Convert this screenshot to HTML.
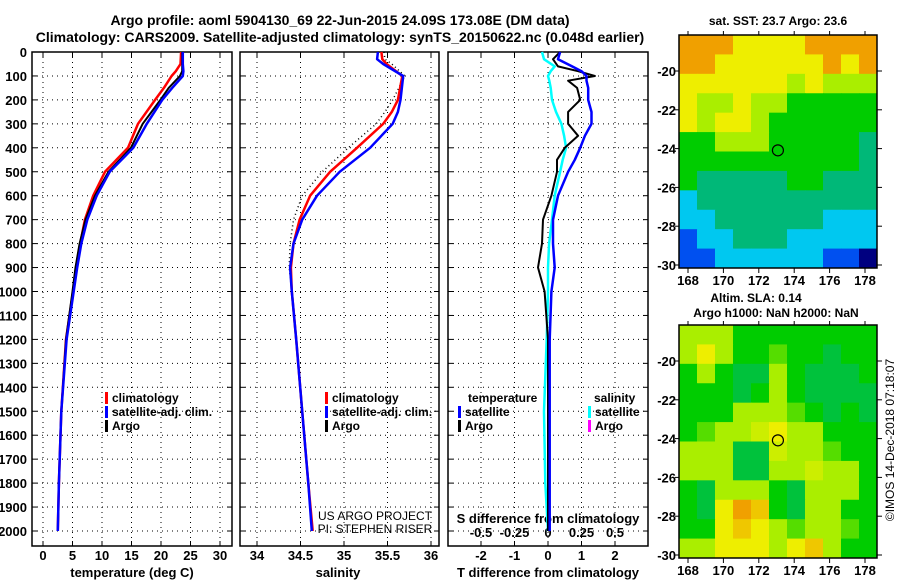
<!DOCTYPE html>
<html><head><meta charset="utf-8"><style>
html,body{margin:0;padding:0;background:#fff;}
svg{display:block;font-family:"Liberation Sans",sans-serif;font-weight:bold;}
</style></head><body>
<svg id="c" width="900" height="580" viewBox="0 0 900 580" xmlns="http://www.w3.org/2000/svg">
<text x="340" y="25" font-size="14" text-anchor="middle">Argo profile: aoml 5904130_69 22-Jun-2015 24.09S 173.08E (DM data)</text>
<text x="340" y="42" font-size="14" text-anchor="middle">Climatology: CARS2009. Satellite-adjusted climatology: synTS_20150622.nc (0.048d earlier)</text>
<text x="778" y="25" font-size="12" text-anchor="middle">sat. SST: 23.7 Argo: 23.6</text>
<text x="756" y="302" font-size="12" text-anchor="middle">Altim. SLA: 0.14</text>
<text x="776" y="317" font-size="12" text-anchor="middle">Argo h1000: NaN h2000: NaN</text>
<text x="0" y="0" font-size="12" font-weight="normal" text-anchor="middle" transform="translate(894,440) rotate(-90)">©IMOS 14-Dec-2018 07:18:07</text>
<text x="375" y="520" font-size="12" font-weight="normal" text-anchor="middle">US ARGO PROJECT</text>
<text x="375" y="533" font-size="12" font-weight="normal" text-anchor="middle">PI: STEPHEN RISER</text>
</svg>
<script>
// ---- data ----
const depthTicks = [0,100,200,300,400,500,600,700,800,900,1000,1100,1200,1300,1400,1500,1600,1700,1800,1900,2000];
const tempTicks = [0,5,10,15,20,25,30];
const salTicks = [34,34.5,35,35.5,36];
const salTickLabels = ["34","34.5","35","35.5","36"];
const dTTicks = [-2,-1,0,1,2];
const dSTicks = [-0.5,-0.25,0,0.25,0.5];
const dSTickLabels = ["-0.5","-0.25","0","0.25","0.5"];

const tDepth = [0,50,80,100,150,200,300,400,500,600,700,800,900,1000,1200,1500,1800,2000];
const climT = [23.4,23.3,22.5,21.8,20.5,19,16.1,14.4,10.5,8.5,7.1,6.3,5.6,5.1,3.9,3.1,2.7,2.5];
const satT  = [23.7,23.7,23.8,23.7,21.9,20.2,17.6,15.3,11.3,9.1,7.5,6.5,5.8,5.2,4.0,3.1,2.7,2.5];
const argoT = [23.6,23.6,23.6,23.2,21.3,19.9,16.9,14.9,11.1,8.8,7.2,6.2,5.5,5.0,3.9,3.1,2.7,2.5];

const sDepth = [0,30,50,100,200,250,300,400,500,600,700,800,900,1000,1200,1500,1800,2000];
const climS = [35.43,35.44,35.49,35.67,35.62,35.55,35.45,35.15,34.84,34.61,34.49,34.42,34.39,34.40,34.45,34.52,34.59,34.64];
const satS  = [35.39,35.38,35.45,35.68,35.65,35.62,35.56,35.30,34.95,34.69,34.52,34.42,34.38,34.40,34.45,34.52,34.59,34.63];
const argoS = [35.46,35.47,35.55,35.70,35.56,35.47,35.37,35.05,34.75,34.52,34.42,34.38,34.37,34.40,34.45,34.52,34.59,34.63];

const dDepth = [0,30,60,80,100,120,150,200,250,300,350,400,450,500,600,700,800,900,1000,1200,1500,1800,2000];
const dTargo = [0.36,0.15,0.3,0.9,1.4,0.6,0.87,0.96,0.6,0.6,0.9,0.5,0.27,0.27,0.1,-0.15,-0.18,-0.3,-0.1,0,0,0,0];
const dTsat  = [0.36,0.3,0.72,1.0,1.15,1.15,1.2,1.2,1.3,1.3,1.1,0.96,0.8,0.6,0.3,0.15,0.15,0.2,0.1,0.05,0.05,0.05,0.05];
const dSsat  = [-0.045,-0.03,0.05,0.02,0,0.01,0.02,0.03,0.06,0.1,0.12,0.135,0.11,0.09,0.05,0.03,0.008,0,0,-0.01,-0.03,-0.02,0];

const lonTicks = [168,170,172,174,176,178];
const latTicks = [-20,-22,-24,-26,-28,-30];
const sstGrid = [
[7,7,7,6,6,6,6,7,7,7,7],
[7,7,6,6,6,6,6,6,7,6,7],
[6,6,6,6,6,6,5,6,5,5,5],
[6,5,5,6,5,5,4,4,4,4,4],
[6,5,6,6,5,4,4,4,4,4,4],
[4,4,5,5,5,4,4,4,4,4,3],
[4,4,4,4,4,4,4,4,4,4,3],
[4,3,3,3,3,3,4,4,3,3,3],
[2,3,3,3,3,3,3,3,3,3,3],
[2,2,3,3,3,3,3,3,2,2,2],
[1,2,2,3,3,3,2,2,2,2,2],
[1,1,2,2,2,2,2,2,1,1,0]];
const slaGrid = [
[5,5,5,4,4,4,4,4,4,4,4],
[5,6,5,4,4,4.5,4,4,3.5,4,4],
[4,5,4,3.5,3.5,5,4,3.5,3.5,3.5,4],
[4,4,4,3.5,4,5,4,3.5,3.5,3.5,3.5],
[4,4,4,5,5,5,4.5,4,3.5,4,3.5],
[4,4.5,5,5,5.5,6,5,5,4,4,4],
[5,5,5,3.5,3.5,5.5,5,5,4.5,4,4],
[5,5,5,3.5,3.5,5,5,5.5,5,5,4],
[4,3.5,5,5,5,4,3.5,5,5,5,4],
[4,3.5,6,7,6.5,4,3.5,5,5,4,4],
[4,4,6,6.5,6,5,4.5,5,5,4.5,4],
[5,5,6,6,6,5,6,6.5,5,4,4]];
const argoLon = 173.08, argoLat = -24.09;

// ---- helpers ----
const NS="http://www.w3.org/2000/svg";
const svg=document.getElementById('c');
function mk(tag,attrs,parent){const e=document.createElementNS(NS,tag);for(const k in attrs)e.setAttribute(k,attrs[k]);(parent||svg).appendChild(e);return e;}
function txt(x,y,s,size,anchor,parent){const t=mk('text',{x:x,y:y,'font-size':size,'text-anchor':anchor||'middle'},parent);t.textContent=s;return t;}

const TOP=52,BOT=546;
const yD=d=>TOP+d*0.2395;
const xT=v=>43+v*5.9;
const xS=v=>257+(v-34)*87;
const xDT=v=>548+v*33.5;
const xDS=v=>548+v*134;
const panels=[{x0:32,x1:232,name:'temperature-panel'},{x0:240,x1:439,name:'salinity-panel'},{x0:448,x1:648,name:'difference-panel'}];

panels.forEach((p,i)=>{
  const g=mk('g',{});
  
  
  depthTicks.forEach(d=>{ if(d>0){mk('line',{x1:p.x0,x2:p.x1,y1:yD(d),y2:yD(d),stroke:'#000','stroke-width':1,'stroke-dasharray':'1,4'},g);}
    mk('line',{x1:p.x0,x2:p.x0+5,y1:yD(d),y2:yD(d),stroke:'#000'},g);
    mk('line',{x1:p.x1-5,x2:p.x1,y1:yD(d),y2:yD(d),stroke:'#000'},g);});
  const xs = i==0?tempTicks.map(xT):i==1?salTicks.map(xS):dTTicks.map(xDT);
  xs.forEach(x=>{mk('line',{x1:x,x2:x,y1:TOP,y2:BOT,stroke:'#000','stroke-dasharray':'1,4'},g);
    mk('line',{x1:x,x2:x,y1:BOT-5,y2:BOT,stroke:'#000'},g);mk('line',{x1:x,x2:x,y1:TOP,y2:TOP+5,stroke:'#000'},g);});
  mk('rect',{x:p.x0,y:TOP,width:p.x1-p.x0,height:BOT-TOP,fill:'none',stroke:'#000','stroke-width':1.5},g);
});
depthTicks.forEach(d=>{const t=txt(27,yD(d)+5,String(d),13,'end');
  
  });
tempTicks.forEach(v=>{const t=txt(xT(v),560,String(v),13);
  
  });
salTicks.forEach((v,i)=>{const t=txt(xS(v),560,salTickLabels[i],13);
  
  });
dTTicks.forEach(v=>{const t=txt(xDT(v),560,String(v),13);
  
  });
dSTicks.forEach((v,i)=>{const t=txt(xDS(v),537,dSTickLabels[i],13);
  
  });
let t;
t=txt(132,577,'temperature (deg C)',13);
t=txt(338,577,'salinity',13);
t=txt(548,577,'T difference from climatology',13);
t=txt(548,523,'S difference from climatology',13);

function series(xs,ds,fx,color,w,dash,name){
  const pts=xs.map((v,i)=>fx(v).toFixed(1)+','+yD(ds[i]).toFixed(1)).join(' ');
  const a={points:pts,fill:'none',stroke:color,'stroke-width':w,'stroke-linejoin':'round'};
  if(dash)a['stroke-dasharray']=dash;
  const l=mk('polyline',a);
  
  
}
series(climT,tDepth,xT,'#f00',2.5,null,'temp-climatology-line');
series(argoT,tDepth,xT,'#000',2,null,'temp-argo-line');
series(satT,tDepth,xT,'#00f',2.5,null,'temp-satellite-line');
series(argoS,sDepth,xS,'#000',1.5,'1,3','sal-argo-line');
series(climS,sDepth,xS,'#f00',2.5,null,'sal-climatology-line');
series(satS,sDepth,xS,'#00f',2.5,null,'sal-satellite-line');
series(dSsat,dDepth,xDS,'#0ff',2.5,null,'sal-diff-satellite-line');
series(dTargo,dDepth,xDT,'#000',2,null,'temp-diff-argo-line');
series(dTsat,dDepth,xDT,'#00f',2.5,null,'temp-diff-satellite-line');

function legend(x,y,color,label){
  const g=mk('g',{});
  
  
  mk('rect',{x:x,y:y-10,width:3,height:12,fill:color},g);
  txt(x+7,y,label,12,'start',g);
}
legend(105,402,'#f00','climatology');legend(105,416,'#00f','satellite-adj. clim.');legend(105,430,'#000','Argo');
legend(325,402,'#f00','climatology');legend(325,416,'#00f','satellite-adj. clim.');legend(325,430,'#000','Argo');
t=txt(468,402,'temperature',12,'start');
t=txt(594,402,'salinity',12,'start');
legend(458,416,'#00f','satellite');legend(458,430,'#000','Argo');
legend(588,416,'#0ff','satellite');legend(588,430,'#f0f','Argo');

// ---- maps ----
const cmapStops=['#000080','#0050f0','#00c8f0','#00b878','#00cc00','#aaee00','#eeee00','#f0a000'];
function hex(h){return [1,3,5].map(i=>parseInt(h.substr(i,2),16));}
function cmap(v){const i=Math.max(0,Math.min(6,Math.floor(v)));const f=Math.max(0,Math.min(1,v-i));
  const a=hex(cmapStops[i]),b=hex(cmapStops[i+1]);return 'rgb('+a.map((c,k)=>Math.round(c+(b[k]-c)*f)).join(',')+')';}
function drawMap(grid,top,name,bottomLabelY){
  const L=679,R=877,H=233;
  const g=mk('g',{});
  
  
  const rows=grid.length,cols=grid[0].length,cw=(R-L)/cols,ch=H/rows;
  grid.forEach((row,r)=>row.forEach((v,c)=>{
    const cell=mk('rect',{x:(L+c*cw).toFixed(2),y:(top+r*ch).toFixed(2),width:(cw+0.5).toFixed(2),height:(ch+0.5).toFixed(2),fill:cmap(v)},g);
    
    
  }));
  const lx=lon=>688+(lon-168)*17.7;
  const ly=lat=>top+36+(-20-lat)*19.4;
  mk('rect',{x:L,y:top,width:R-L,height:H,fill:'none',stroke:'#000','stroke-width':1.5},g);
  lonTicks.forEach(lon=>{mk('line',{x1:lx(lon),x2:lx(lon),y1:top+H,y2:top+H+5,stroke:'#000'},g);mk('line',{x1:lx(lon),x2:lx(lon),y1:top,y2:top-4,stroke:'#000'},g);
    txt(lx(lon),bottomLabelY,String(lon),13,'middle',g);});
  latTicks.forEach(lat=>{mk('line',{x1:R,x2:R+5,y1:ly(lat),y2:ly(lat),stroke:'#000'},g);mk('line',{x1:L-4,x2:L,y1:ly(lat),y2:ly(lat),stroke:'#000'},g);
    txt(L-3,ly(lat)+5,String(lat),13,'end',g);});
  const c=mk('circle',{cx:lx(argoLon),cy:ly(argoLat),r:5.5,fill:'none',stroke:'#000','stroke-width':1.2},g);
  
  
}
drawMap(sstGrid,35,'sst-map',285);
drawMap(slaGrid,325,'sla-map',575);
</script>
</body></html>
